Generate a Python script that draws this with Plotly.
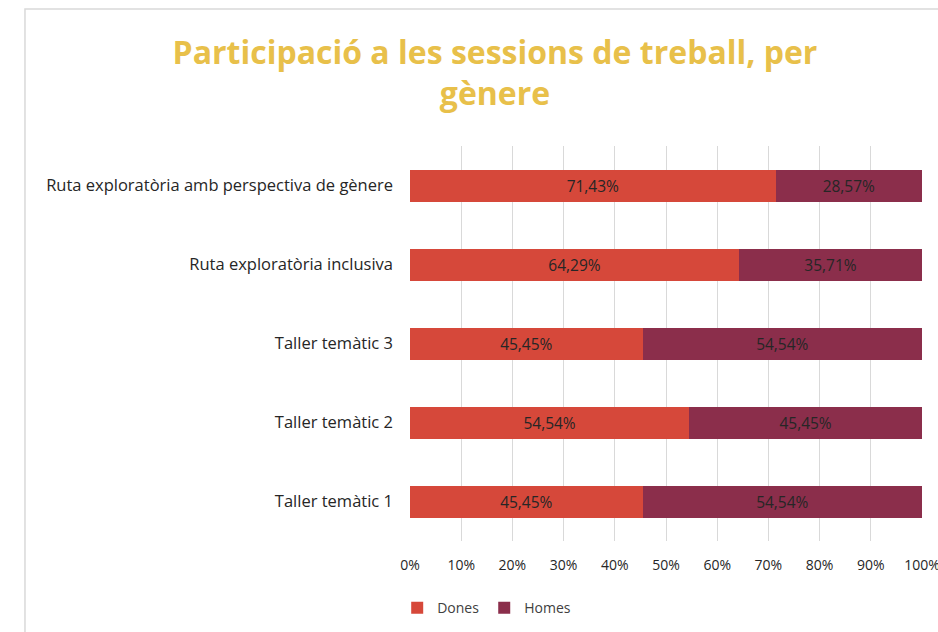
import plotly.graph_objects as go

categories = ["Taller temàtic 1", "Taller temàtic 2", "Taller temàtic 3",
              "Ruta exploratòria inclusiva",
              "Ruta exploratòria amb perspectiva de gènere"]
dones = [45.45, 54.54, 45.45, 64.29, 71.43]
homes = [54.54, 45.45, 54.54, 35.71, 28.57]
tick_vals = [0, 10, 20, 30, 40, 50, 60, 70, 80, 90, 100]
tick_text = [f"{v}%" for v in tick_vals]

def fmt(v):
    return f"{v:.2f}%".replace(".", ",")

fig = go.Figure()
fig.add_trace(go.Bar(y=categories, x=dones, name="Dones", orientation="h",
                     marker=dict(color="#D6483A", line=dict(width=0)),
                     text=[fmt(v) for v in dones], textposition="inside",
                     insidetextanchor="middle",
                     textfont=dict(color="#262626", size=15.5)))
fig.add_trace(go.Bar(y=categories, x=homes, name="Homes", orientation="h",
                     marker=dict(color="#8B2E4B", line=dict(width=0)),
                     text=[fmt(v) for v in homes], textposition="inside",
                     insidetextanchor="middle",
                     textfont=dict(color="#262626", size=15.5)))

fig.update_layout(
    barmode="stack", barnorm="percent", bargap=0.595,
    width=938, height=632,
    margin=dict(l=410, r=16, t=146, b=91, autoexpand=False),
    paper_bgcolor="white", plot_bgcolor="white",
    font=dict(family="Open Sans", color="#404040", size=14),
    uniformtext=dict(minsize=8, mode="show"),
    title=dict(text="Participació a les sessions de treball, per<br>gènere",
               x=0.5277, xanchor="center", y=0.8995, yanchor="middle",
               font=dict(family="Open Sans", size=32, color="#E8C04A", weight="bold")),
    legend=dict(orientation="h", x=-0.025, xanchor="left", y=-0.170, yanchor="middle",
                font=dict(size=14, color="#404040"), traceorder="normal"),
    showlegend=True,
)
fig.update_xaxes(range=[0, 100], tickvals=tick_vals, ticktext=tick_text,
                 showgrid=True, gridcolor="#D9D9D9", gridwidth=1,
                 zeroline=False, showline=False, ticks="",
                 automargin=False, ticklabeloverflow="allow", ticklabelstandoff=14,
                 tickfont=dict(size=14, color="#262626"), fixedrange=True)
fig.update_yaxes(showgrid=False, showline=False, ticks="", ticklen=0,
                 automargin=False, ticklabelstandoff=16,
                 tickfont=dict(size=16.5, color="#262626"), fixedrange=True)
fig.add_shape(type="rect", xref="paper", yref="paper",
              x0=-0.752, x1=1.2, y0=-0.5, y1=1.347,
              line=dict(color="#D9D9D9", width=1.5), layer="below")

fig.write_html("out.html", config={"displayModeBar": False},
               post_script="document.body.style.margin='0';")
